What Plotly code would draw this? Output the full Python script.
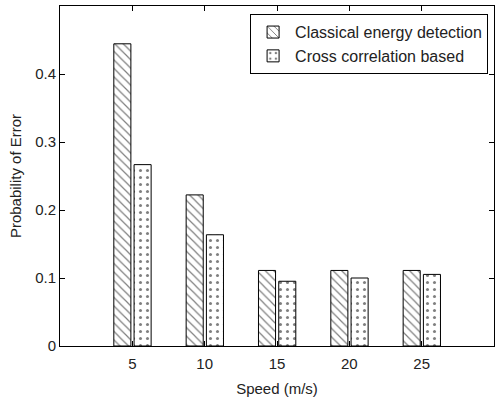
import plotly.graph_objects as go

speeds = [5, 10, 15, 20, 25]
classical = [0.4444, 0.2222, 0.1111, 0.1111, 0.1111]
cross_corr = [0.2667, 0.1636, 0.0952, 0.1000, 0.1053]
y_ticks = [0, 0.1, 0.2, 0.3, 0.4, 0.5]
y_labels = ["0", "0.1", "0.2", "0.3", "0.4", "0.5"]

font = dict(family="Liberation Sans, Arial, sans-serif", size=15, color="#222222")

fig = go.Figure()
fig.add_trace(go.Bar(
    x=speeds, y=classical, name="Classical energy detection",
    width=1.18, offset=-1.28,
    marker=dict(color="white", line=dict(color="black", width=1),
                pattern=dict(shape="\\", fgcolor="black", bgcolor="white", size=6, solidity=0.2)),
))
fig.add_trace(go.Bar(
    x=speeds, y=cross_corr, name="Cross correlation based",
    width=1.18, offset=0.12,
    marker=dict(color="white", line=dict(color="black", width=1),
                pattern=dict(shape=".", fgcolor="black", bgcolor="white", size=7, solidity=0.15)),
))

axis_common = dict(
    showline=True, linecolor="black", linewidth=1, mirror="ticks",
    ticks="inside", ticklen=5, tickcolor="black", showgrid=False, zeroline=False,
    tickfont=font,
)

fig.update_layout(
    width=496, height=404,
    margin=dict(l=60, r=2, t=6, b=58),
    paper_bgcolor="white", plot_bgcolor="white",
    barmode="overlay",
    font=font,
    showlegend=True,
    legend=dict(x=0.438, y=0.976, xanchor="left", yanchor="top",
                bordercolor="black", borderwidth=1, bgcolor="white",
                font=dict(family="Liberation Sans, Arial, sans-serif", size=16, color="#222222"),
                tracegroupgap=0, itemwidth=34),
    xaxis=dict(range=[0, 30], tickvals=speeds, ticktext=[str(s) for s in speeds],
               ticklabelstandoff=4,
               title=dict(text="Speed (m/s)", font=font, standoff=12), **axis_common),
    yaxis=dict(range=[0, 0.5], tickvals=y_ticks, ticktext=y_labels,
               title=dict(text="Probability of Error", font=font, standoff=9), **axis_common),
)

fig.write_html("out.html")
